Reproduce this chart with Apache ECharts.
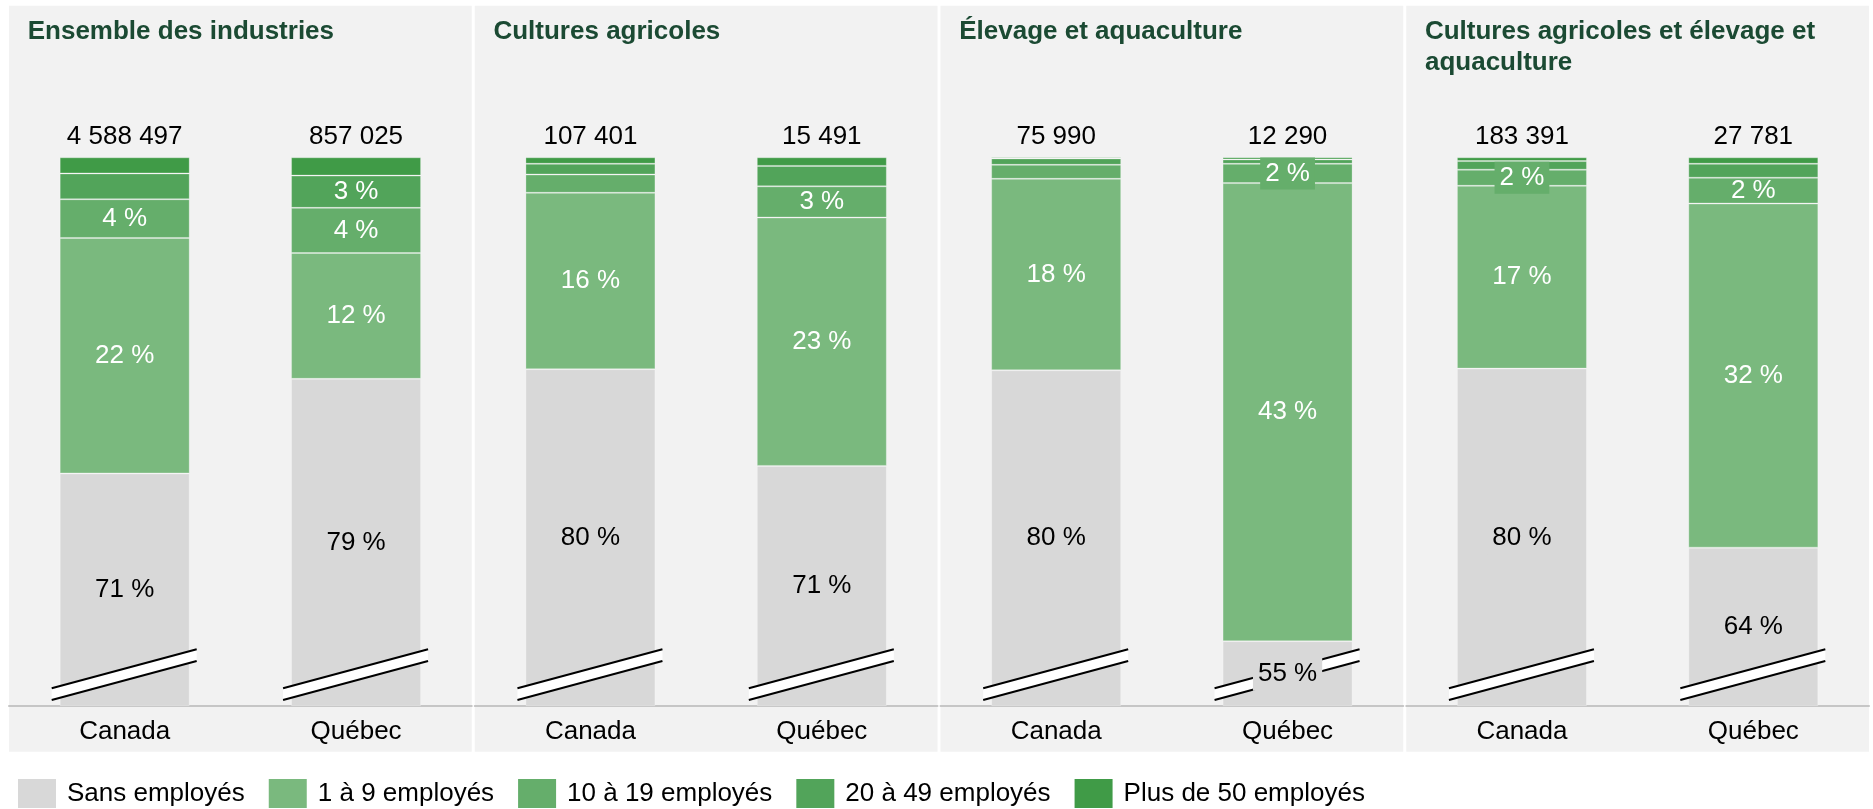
<!DOCTYPE html>
<html>
<head>
<meta charset="utf-8">
<title>Entreprises selon la taille</title>
<script src="https://cdn.jsdelivr.net/npm/echarts@6/dist/echarts.min.js"></script>
<style>
  html, body { margin: 0; padding: 0; background: #fff; }
  #chart { width: 1873px; height: 809px; }
</style>
</head>
<body>
<div id="chart"></div>
<script>
// panels and bars
const panelTitles = ['Ensemble des industries', 'Cultures agricoles', 'Élevage et aquaculture', 'Cultures agricoles et élevage et\naquaculture']
const regions = ['Canada', 'Québec']

// one value per bar: [panel1 Canada, panel1 Québec, panel2 Canada, ...]
const totals = [4588497, 857025, 107401, 15491, 75990, 12290, 183391, 27781]
const sansEmployes = [70.6, 79.4, 80.3, 71.3, 80.2, 55.0, 80.35, 63.7]
const emp1a9 = [21.9, 11.7, 16.4, 23.1, 17.8, 42.6, 17.0, 32.0]
const emp10a19 = [3.6, 4.2, 1.7, 2.9, 1.3, 1.8, 1.5, 2.4]
const emp20a49 = [2.4, 3.0, 1.0, 1.9, 0.6, 0.4, 0.8, 1.3]
const emp50plus = [1.5, 1.7, 0.6, 0.8, 0.1, 0.2, 0.35, 0.6]

// which percentage labels are written on the bars (2 = written on a box)
const labels10a19 = [1, 1, 0, 1, 0, 2, 2, 1]
const labels20a49 = [0, 1, 0, 0, 0, 0, 0, 0]

const segNames = ['Sans employés', '1 à 9 employés', '10 à 19 employés', '20 à 49 employés', 'Plus de 50 employés']
const segValues = [sansEmployes, emp1a9, emp10a19, emp20a49, emp50plus]
const segLabels = [[2, 2, 2, 2, 2, 2, 2, 2], [1, 1, 1, 1, 1, 1, 1, 1], labels10a19, labels20a49, [0, 0, 0, 0, 0, 0, 0, 0]]
const segColors = ['#d8d8d8', '#7ab97e', '#65ae6b', '#52a45a', '#409b47']
const segTextColors = ['#000', '#fff', '#fff', '#fff', '#fff']

const font = "'Liberation Sans', Arial, sans-serif"
const yMin = 49 // axis is broken below this
const panelW = 462.75
const panelGap = 3
const panelLeft = i => 9 + i * (panelW + panelGap)

function fmtTotal(n) {
  return String(n).replace(/\B(?=(\d{3})+(?!\d))/g, ' ')
}

// double slash drawn over the bottom of each bar
function renderBreak(params, api) {
  const p = api.coord([api.value(0), yMin])
  const x0 = p[0] - 73
  const x1 = p[0] + 72
  const y = p[1]
  return {
    type: 'group',
    children: [
      { type: 'polygon', z2: 1, shape: { points: [[x0, y - 17.4], [x1, y - 56.4], [x1, y - 44.7], [x0, y - 5.7]] }, style: { fill: '#fff' } },
      { type: 'line', z2: 1, shape: { x1: x0, y1: y - 17.4, x2: x1, y2: y - 56.4 }, style: { stroke: '#000', lineWidth: 2 } },
      { type: 'line', z2: 1, shape: { x1: x0, y1: y - 5.7, x2: x1, y2: y - 44.7 }, style: { stroke: '#000', lineWidth: 2 } }
    ]
  }
}

const grids = []
const xAxes = []
const yAxes = []
const titles = []
const panelsBg = []
const series = []

panelTitles.forEach((t, p) => {
  grids.push({ left: panelLeft(p), width: panelW, top: 157.3, height: 548.4, containLabel: false, outerBoundsMode: 'none' })
  xAxes.push({
    type: 'category',
    gridIndex: p,
    data: regions,
    axisTick: { show: false },
    axisLine: { lineStyle: { color: '#c6c6c6', width: 2 } },
    axisLabel: { fontSize: 26, lineHeight: 26, color: '#000', margin: 13, fontFamily: font }
  })
  yAxes.push({
    type: 'value',
    gridIndex: p,
    min: yMin,
    max: 100,
    show: false,
    splitLine: { show: false }
  })
  titles.push({
    text: t,
    left: panelLeft(p) + 18.7,
    top: 16,
    padding: 0,
    textStyle: { fontSize: 26, fontWeight: 'bold', color: '#1b4a33', lineHeight: 31, fontFamily: font }
  })
  panelsBg.push({
    type: 'rect',
    shape: { x: panelLeft(p), y: 5.7, width: panelW, height: 746 },
    style: { fill: '#f2f2f2' },
    silent: true
  })

  segNames.forEach((name, s) => {
    const isTop = s === segNames.length - 1
    const data = regions.map((r, j) => {
      const k = p * 2 + j
      const mode = segLabels[s][k]
      const item = { value: segValues[s][k], label: { show: isTop || mode > 0 } }
      if (mode === 2) {
        item.label.backgroundColor = segColors[s]
        item.label.padding = s === 0 ? [4, 5] : [3, 5]
      }
      return item
    })
    series.push({
      name: name,
      type: 'bar',
      xAxisIndex: p,
      yAxisIndex: p,
      stack: 'panel' + p,
      barWidth: 130,
      data: data,
      itemStyle: { color: segColors[s], borderColor: 'rgba(255,255,255,0.25)', borderWidth: 1 },
      label: isTop ? {
        position: 'top',
        distance: 7,
        fontSize: 26,
        color: '#000',
        fontFamily: font,
        formatter: prm => fmtTotal(totals[p * 2 + prm.dataIndex])
      } : {
        position: 'inside',
        fontSize: 26,
        lineHeight: 26,
        color: segTextColors[s],
        fontFamily: font,
        formatter: prm => Math.round(prm.value) + ' %'
      }
    })
  })
})

panelTitles.forEach((t, p) => {
  series.push({
    name: 'coupure',
    type: 'custom',
    xAxisIndex: p,
    yAxisIndex: p,
    data: regions.map((r, j) => [j]),
    renderItem: renderBreak,
    silent: true
  })
})

const chart = echarts.init(document.getElementById('chart'))
chart.setOption({
  animation: false,
  backgroundColor: '#fff',
  textStyle: { fontFamily: font },
  title: titles,
  graphic: panelsBg,
  grid: grids,
  xAxis: xAxes,
  yAxis: yAxes,
  legend: {
    data: segNames,
    left: 18,
    top: 779,
    padding: 0,
    icon: 'rect',
    itemWidth: 38,
    itemHeight: 29,
    itemGap: 24,
    itemStyle: { borderWidth: 0 },
    selectedMode: false,
    textStyle: { fontSize: 26, color: '#000', padding: [0, 0, 0, 6], fontFamily: font }
  },
  series: series
})
</script>
</body>
</html>
